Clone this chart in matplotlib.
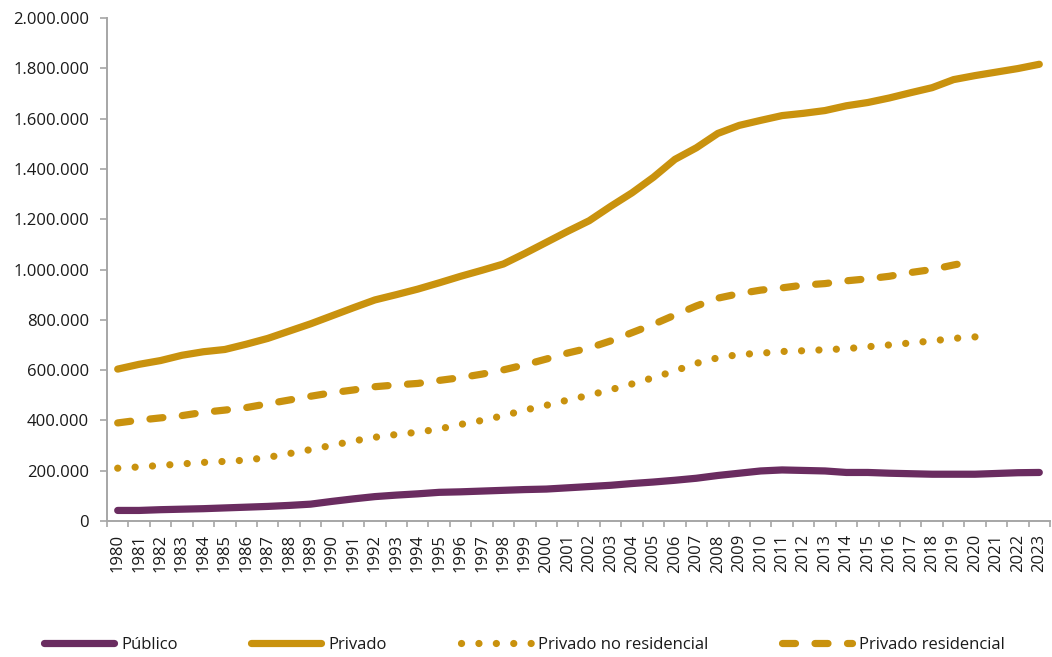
import numpy as np
import matplotlib.pyplot as plt
from matplotlib.ticker import FuncFormatter, MultipleLocator

plt.rcParams['font.family'] = ['Open Sans', 'DejaVu Sans']

YEARS = list(range(1980, 2024))

PUBLICO = [42, 42, 45, 47, 49, 52, 55, 58, 62, 67, 78, 88, 97, 103, 108, 114,
           116, 119, 122, 125, 127, 132, 137, 142, 149, 155, 162, 170, 181, 190,
           199, 203, 201, 199, 193, 193, 190, 188, 186, 186, 186, 189, 192, 193]
PRIVADO = [604, 623, 638, 659, 673, 682, 703, 726, 755, 784, 816, 848, 879, 900,
           922, 947, 973, 997, 1022, 1064, 1108, 1152, 1194, 1251, 1305, 1367,
           1438, 1484, 1541, 1573, 1593, 1612, 1621, 1632, 1651, 1664, 1682,
           1703, 1723, 1755, 1771, 1785, 1799, 1816]
# residential / non-residential split is only published up to 2020
PRIV_NORES = [210, 215, 221, 227, 233, 237, 242, 253, 268, 284, 301, 318, 333,
              344, 353, 366, 384, 400, 419, 441, 460, 481, 500, 522, 545, 570,
              597, 627, 649, 662, 667, 674, 677, 681, 685, 693, 700, 708, 716,
              726, 732]
PRIV_RES = [390, 401, 410, 419, 432, 441, 451, 466, 481, 496, 510, 521, 534, 541,
            547, 559, 570, 584, 601, 621, 644, 668, 688, 716, 749, 782, 819, 855,
            886, 904, 918, 927, 938, 944, 955, 963, 973, 988, 1000, 1018, 1034]

PURPLE = "#6a2c60"
GOLD = "#c9920e"
GREY = "#a6a6a6"
LW = 5.2
FS = 12


def thousands(v, pos):
    return f"{int(round(v)):,}".replace(",", ".")


fig = plt.figure(figsize=(10.52, 6.57), dpi=100)
ax = fig.add_axes([0.1017, 0.207, 0.8964, 0.7656])

x = np.arange(len(YEARS))
k = 1000.0
ax.plot(x, np.array(PUBLICO) * k, color=PURPLE, lw=LW, solid_capstyle="round",
        label="Público")
ax.plot(x, np.array(PRIVADO) * k, color=GOLD, lw=LW, solid_capstyle="round",
        label="Privado")
n = len(PRIV_NORES)
ax.plot(x[:n], np.array(PRIV_NORES) * k, color=GOLD, lw=LW,
        dashes=(0.01, 2.4), dash_capstyle="round", label="Privado no residencial")
ax.plot(x[:n], np.array(PRIV_RES) * k, color=GOLD, lw=LW,
        dashes=(1.8, 2.7), dash_capstyle="round", label="Privado residencial")

ax.set_ylim(0, 2_000_000)
ax.set_xlim(-0.5, len(YEARS) - 0.5)
ax.yaxis.set_major_locator(MultipleLocator(200_000))
ax.yaxis.set_major_formatter(FuncFormatter(thousands))

ax.set_xticks(x)
ax.set_xticklabels([str(y) for y in YEARS], rotation=90)
ax.set_xticks(np.arange(-0.5, len(YEARS), 1), minor=True)
ax.tick_params(axis="x", which="major", length=0, pad=9.5)
ax.tick_params(axis="x", which="minor", length=4.5, color=GREY, width=1.2)
ax.tick_params(axis="y", length=5, color=GREY, width=1.2, pad=8)
ax.tick_params(labelsize=FS, labelcolor="#1a1a1a")

for s in ("top", "right"):
    ax.spines[s].set_visible(False)
for s in ("left", "bottom"):
    ax.spines[s].set_color(GREY)
    ax.spines[s].set_linewidth(1.4)

leg = fig.legend(loc="center left", bbox_to_anchor=(0.0418, 0.018), ncol=4,
                 frameon=False, fontsize=FS, handlelength=4.2, handletextpad=0.45,
                 columnspacing=4.4, borderpad=0, borderaxespad=0)
for t in leg.get_texts():
    t.set_color("#1a1a1a")

fig.savefig("out.png", dpi=100)
